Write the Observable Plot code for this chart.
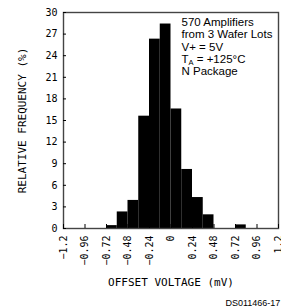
<!DOCTYPE html>
<html><head><meta charset="utf-8">
<script src="https://cdn.jsdelivr.net/npm/d3@7"></script>
<script src="https://cdn.jsdelivr.net/npm/@observablehq/plot@0.6"></script>
<style>body{margin:0;background:#fff}</style>
</head><body><div id="chart"></div>
<script>
const binStart = [-0.72, -0.6, -0.48, -0.36, -0.24, -0.12, 0, 0.12, 0.24, 0.36, 0.48, 0.6, 0.72];
const binEnd   = [-0.6, -0.48, -0.36, -0.24, -0.12, 0, 0.12, 0.24, 0.36, 0.48, 0.6, 0.72, 0.84];
const frequency = [0.4, 2.3, 3.9, 15.6, 26.3, 28.4, 16.6, 8.2, 4.3, 1.9, 0, 0, 0.5];
const xTicks = [-1.2, -0.96, -0.72, -0.48, -0.24, 0, 0.24, 0.48, 0.72, 0.96, 1.2];
const yTicks = [0, 3, 6, 9, 12, 15, 18, 21, 24, 27, 30];
const notes = ["570 Amplifiers", "from 3 Wafer Lots", "V+ = 5V", "TA = +125°C", "N Package"];
const xLabel = "OFFSET VOLTAGE (mV)";
const yLabel = "RELATIVE FREQUENCY (%)";
const code = "DS011466-17";

const bins = binStart.map((s, i) => ({x1: s, x2: binEnd[i], y: frequency[i]}));
const mono = "'DejaVu Sans Mono', monospace";
const sans = "'Liberation Sans', Arial, sans-serif";
const fmt = d => d < 0 ? "\u2212" + String(-d) : String(d);

const svg = Plot.plot({
  width: 281, height: 308,
  marginLeft: 63, marginRight: 3, marginTop: 12, marginBottom: 80,
  style: {fontFamily: mono, fontSize: "10px", background: "white", color: "black", overflow: "visible"},
  x: {domain: [-1.2, 1.2]},
  y: {domain: [0, 30]},
  marks: [
    Plot.rectY(bins, {x1: "x1", x2: "x2", y: "y", fill: "black"}),
    Plot.frame({stroke: "#444", strokeWidth: 1.4}),
    Plot.axisY({ticks: yTicks, tickFormat: fmt, tickSize: -3, tickPadding: 9, label: null, fontSize: 10, fontFamily: mono}),
    Plot.axisX({ticks: xTicks, tickFormat: fmt, tickSize: -4, tickPadding: 11, tickRotate: -90, label: null, fontSize: 10, fontFamily: mono}),
    Plot.text([yLabel], {frameAnchor: "left", dx: -41, rotate: -90, textAnchor: "middle", fontSize: 11, fontFamily: mono}),
    Plot.text([xLabel], {frameAnchor: "bottom", dy: 57, textAnchor: "middle", fontSize: 11, fontFamily: mono}),
    Plot.text([notes.join("\n")], {frameAnchor: "top-left", dx: 118, dy: 5, lineAnchor: "top", textAnchor: "start", fontSize: 11.5, lineHeight: 1.06, fontFamily: sans}),
    Plot.text([code], {frameAnchor: "bottom-left", dx: 162, dy: 77, lineAnchor: "bottom", textAnchor: "start", fontSize: 9, fontFamily: sans})
  ]
});

d3.select(svg).selectAll("tspan").filter(function() { return this.textContent === "TA = +125°C"; }).each(function() {
  const t = d3.select(this);
  t.text("T");
  t.append("tspan").attr("dy", 2.5).attr("font-size", "7.5px").text("A");
  t.append("tspan").attr("dy", -2.5).text(" = +125°C");
});

document.getElementById("chart").appendChild(svg);
</script>
</body></html>
